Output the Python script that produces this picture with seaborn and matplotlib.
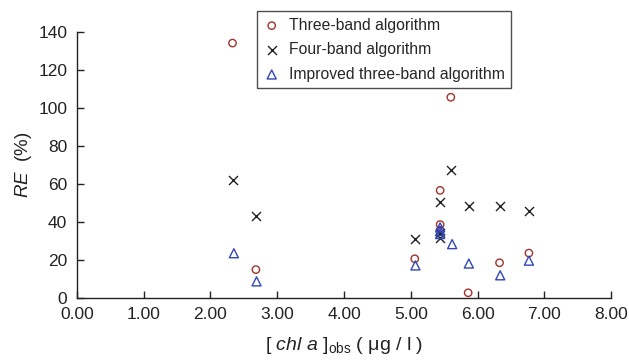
import matplotlib
matplotlib.use("Agg")
import seaborn as sns
from matplotlib import pyplot as plt

# chl a observada (ug/l) y error relativo (%)
x_three = [2.33, 2.68, 5.06, 5.44, 5.44, 5.44, 5.60, 5.86, 6.33, 6.77]
re_three = [134.0, 14.8, 20.5, 56.5, 38.5, 35.5, 105.5, 2.6, 18.4, 23.5]

x_four = [2.34, 2.68, 5.06, 5.44, 5.44, 5.44, 5.61, 5.87, 6.33, 6.77]
re_four = [62.0, 43.0, 31.0, 50.5, 31.5, 34.0, 67.0, 48.3, 48.3, 45.6]

x_impr = [2.35, 2.69, 5.07, 5.44, 5.44, 5.44, 5.62, 5.87, 6.34, 6.77]
re_impr = [23.4, 8.6, 17.0, 37.0, 35.0, 33.5, 28.2, 18.0, 11.8, 19.5]

etiquetas = ["Three-band algorithm", "Four-band algorithm",
             "Improved three-band algorithm"]

sns.set_style("ticks")
plt.rcParams["font.family"] = ["Liberation Sans", "DejaVu Sans"]
plt.rcParams["mathtext.fontset"] = "custom"
plt.rcParams["mathtext.rm"] = "Liberation Sans"
plt.rcParams["mathtext.it"] = "Liberation Sans:italic"

fig = plt.figure(figsize=(6.29, 3.6), dpi=100)
ax = fig.add_axes([0.1224, 0.173, 0.849, 0.739])

# Circulos rojos abiertos
sns.scatterplot(x=x_three, y=re_three, marker="o", s=28, facecolors="none",
                edgecolors="#a3322a", linewidth=1.0, label=etiquetas[0], ax=ax)
# Cruces negras
sns.scatterplot(x=x_four, y=re_four, marker="x", s=42, color="#222222",
                linewidth=1.0, label=etiquetas[1], ax=ax)
# Triangulos azules abiertos
sns.scatterplot(x=x_impr, y=re_impr, marker="^", s=42, facecolors="none",
                edgecolors="#3246b4", linewidth=1.0, label=etiquetas[2], ax=ax)

ax.set_xlim(0, 8)
ax.set_ylim(0, 140)
ax.set_xticks([0, 1, 2, 3, 4, 5, 6, 7, 8])
ax.set_xticklabels([f"{v:.2f}" for v in range(9)])
ax.set_yticks(range(0, 141, 20))
ax.tick_params(direction="in", length=5, width=1, labelsize=12.5,
               colors="#222222")
ax.tick_params(axis="y", pad=7)
ax.tick_params(axis="x", pad=7)
for lado in ["top", "right"]:
    ax.spines[lado].set_visible(False)
for lado in ["left", "bottom"]:
    ax.spines[lado].set_linewidth(1.0)
    ax.spines[lado].set_color("#222222")

ax.set_xlabel(r"[ $\it{chl\ a}$ ]$_{\rm obs}$ ( μg / l )", fontsize=14,
              color="#222222", labelpad=9)
ax.set_ylabel(r"$\it{RE}$  (%)", fontsize=13.5, color="#222222", labelpad=3)

leg = ax.legend(loc="upper left", bbox_to_anchor=(0.409, 0.969),
                bbox_transform=fig.transFigure, frameon=True, fancybox=False,
                edgecolor="#222222", fontsize=11.3, handletextpad=0.6,
                borderpad=0.42, labelspacing=0.6, handlelength=1.0,
                borderaxespad=0)
leg.get_frame().set_linewidth(1.0)

plt.savefig("out.png", dpi=100)
